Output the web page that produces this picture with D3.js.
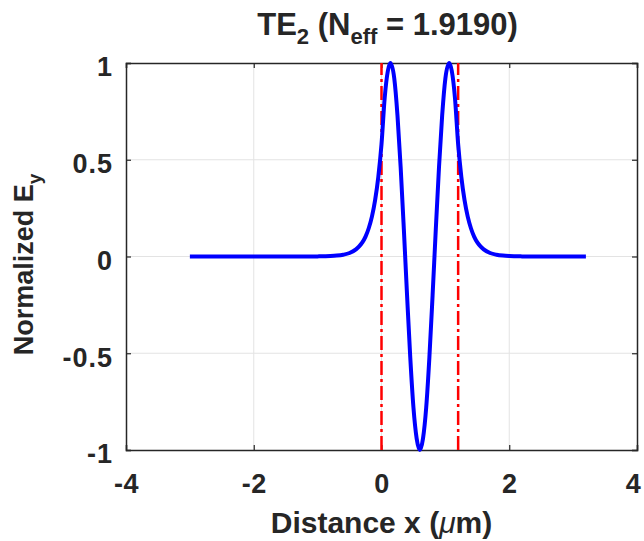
<!DOCTYPE html>
<html>
<head>
<meta charset="utf-8">
<script src="https://cdn.jsdelivr.net/npm/d3@7"></script>
<style>
  body { margin: 0; background: #fff; }
  text { font-family: "Liberation Sans", Arial, sans-serif; font-weight: bold; fill: #262626; }
</style>
</head>
<body>
<div id="root"></div>
<script>
const width = 644;
const height = 541;

// field profile
const xs = [-3, -2, -1.5, -1.2, -1, -0.8, -0.7, -0.6, -0.5, -0.4, -0.35, -0.3, -0.25, -0.2, -0.15, -0.1, -0.05,
    0, 0.05, 0.1, 0.14, 0.2, 0.25, 0.3, 0.35, 0.4, 0.45, 0.5, 0.55, 0.6,
    0.65, 0.7, 0.75, 0.8, 0.85, 0.9, 0.95, 1.0, 1.06, 1.1, 1.15, 1.2,
    1.25, 1.3, 1.35, 1.4, 1.45, 1.5, 1.55, 1.6, 1.7, 1.8, 1.9, 2.0, 2.2, 2.4, 2.7, 3.2];
const ey = [0, 0, 0, 0.0001, 0.0006, 0.0023, 0.0046, 0.0092, 0.018, 0.037, 0.052, 0.073, 0.103, 0.146, 0.206, 0.291, 0.411,
    0.58, 0.82, 0.96, 1.0, 0.92, 0.73, 0.46, 0.14, -0.20, -0.52, -0.78, -0.94, -1.0,
    -0.94, -0.78, -0.52, -0.20, 0.14, 0.46, 0.73, 0.92, 1.0, 0.96, 0.82, 0.58,
    0.411, 0.291, 0.206, 0.146, 0.103, 0.073, 0.052, 0.037, 0.018, 0.0092, 0.0046, 0.0023, 0.0006, 0.0001, 0, 0];

const coreEdges = [0, 1.2];
const xTicks = [-4, -2, 0, 2, 4];
const yTicks = [-1, -0.5, 0, 0.5, 1];

const margin = { left: 126, right: 7, top: 63, bottom: 91 };

const x = d3.scaleLinear().domain([-4, 4]).range([margin.left, width - margin.right]);
const y = d3.scaleLinear().domain([-1, 1]).range([height - margin.bottom, margin.top]);

const svg = d3.select("#root")
    .append("svg")
    .attr("width", width)
    .attr("height", height)
    .attr("viewBox", [0, 0, width, height]);

// grid
svg.append("g")
    .selectAll("line")
    .data(xTicks.slice(1, -1))
    .join("line")
    .attr("x1", d => x(d)).attr("x2", d => x(d))
    .attr("y1", y(-1)).attr("y2", y(1))
    .attr("stroke", "#e3e3e3").attr("stroke-width", 1);

svg.append("g")
    .selectAll("line")
    .data(yTicks.slice(1, -1))
    .join("line")
    .attr("y1", d => y(d)).attr("y2", d => y(d))
    .attr("x1", x(-4)).attr("x2", x(4))
    .attr("stroke", "#e3e3e3").attr("stroke-width", 1);

// axes (ticks pointing inward, MATLAB style), plain hyphen minus
const fmt = d => String(d);
const xAxis = svg.append("g")
    .attr("transform", `translate(0,${y(-1)})`)
    .call(d3.axisBottom(x).tickValues(xTicks).tickSize(-5).tickPadding(34).tickFormat(fmt));
const xAxisTop = svg.append("g")
    .attr("transform", `translate(0,${y(1)})`)
    .call(d3.axisTop(x).tickValues(xTicks).tickSize(-5).tickFormat(""));
const yAxis = svg.append("g")
    .attr("transform", `translate(${x(-4)},0)`)
    .call(d3.axisLeft(y).tickValues(yTicks).tickSize(-5).tickPadding(13).tickFormat(fmt));
const yAxisRight = svg.append("g")
    .attr("transform", `translate(${x(4)},0)`)
    .call(d3.axisRight(y).tickValues(yTicks).tickSize(-5).tickFormat(""));

[xAxis, xAxisTop, yAxis, yAxisRight].forEach(g => {
    g.select(".domain").attr("stroke", "#262626").attr("stroke-width", 1.5);
    g.selectAll(".tick line").attr("stroke", "#262626").attr("stroke-width", 1.2);
    g.selectAll("text").attr("font-size", 27).attr("fill", "#262626")
        .style("font-family", "'Liberation Sans', Arial, sans-serif").style("font-weight", "bold");
});
xAxis.selectAll("text").attr("dy", "0.35em").attr("letter-spacing", 0.5);
xAxis.selectAll("text").filter(d => d === 4).attr("dx", -4);
yAxis.selectAll("text").attr("dy", "0.48em").attr("letter-spacing", 1);

// core boundaries
svg.append("g")
    .selectAll("line")
    .data(coreEdges)
    .join("line")
    .attr("x1", d => x(d)).attr("x2", d => x(d))
    .attr("y1", y(-1)).attr("y2", y(1))
    .attr("stroke", "#ff0000")
    .attr("stroke-width", 2.5)
    .attr("stroke-dasharray", "14,4,3,4");

// field
const line = d3.line()
    .x((d, i) => x(xs[i]))
    .y(d => y(d))
    .curve(d3.curveMonotoneX);

svg.append("path")
    .datum(ey)
    .attr("d", line)
    .attr("fill", "none")
    .attr("stroke", "#0000ff")
    .attr("stroke-width", 4)
    .attr("stroke-linejoin", "round");

// title
const title = svg.append("text")
    .attr("x", (x(-4) + x(4)) / 2 + 6)
    .attr("y", 35)
    .attr("text-anchor", "middle")
    .attr("font-size", 31);
title.append("tspan").text("TE");
title.append("tspan").attr("font-size", 22).attr("dy", 9).text("2");
title.append("tspan").attr("dy", -9).text(" (N");
title.append("tspan").attr("font-size", 22).attr("dy", 9).text("eff");
title.append("tspan").attr("dy", -9).text(" = 1.9190)");

// x label
const xl = svg.append("text")
    .attr("x", (x(-4) + x(4)) / 2)
    .attr("y", 533)
    .attr("text-anchor", "middle")
    .attr("font-size", 30);
xl.append("tspan").text("Distance x (");
xl.append("tspan").attr("font-style", "italic").style("font-weight", "normal").text("\u03bc");
xl.append("tspan").text("m)");

// y label
const yl = svg.append("text")
    .attr("transform", `translate(33,${(y(-1) + y(1)) / 2 + 8}) rotate(-90)`)
    .attr("text-anchor", "middle")
    .attr("font-size", 27);
yl.append("tspan").text("Normalized E");
yl.append("tspan").attr("font-size", 19).attr("dy", 8).text("y");
</script>
</body>
</html>
